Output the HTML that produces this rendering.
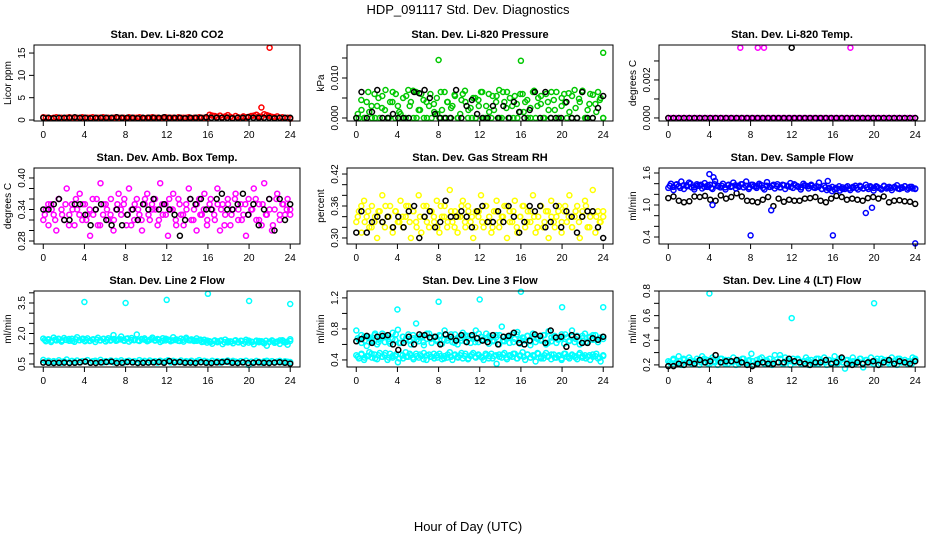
<!DOCTYPE html>
<html><head><meta charset="utf-8">
<style>
html,body{margin:0;padding:0;background:#fff;}
svg{display:block;font-family:"Liberation Sans",Arial,sans-serif;}
</style></head>
<body>
<svg id="chart" width="936" height="540" viewBox="0 0 936 540">
<text x="468" y="14" font-size="13" text-anchor="middle">HDP_091117  Std. Dev. Diagnostics</text>
<text x="468" y="531" font-size="13" text-anchor="middle">Hour of Day (UTC)</text>
<g id="panels"></g>
</svg>
<script>
// ---- data (estimated) ----
const xTicks = [0,4,8,12,16,20,24];

const co2Main = [0.6,0.5,0.5,0.4,0.5,0.6,0.5,0.5,0.4,0.5,0.6,0.5,0.5,0.5,0.4,0.6,0.5,0.5,0.5,0.6,0.4,0.5,0.5,0.6,0.5,0.5,0.4,0.5,0.6,0.5,0.5,0.5,0.4,0.6,0.5,0.5,0.5,0.6,0.5,0.4,0.5,0.5,0.6,0.5,0.5,0.4,0.5,0.6,0.5,0.5,0.5,0.4,0.6,0.5,0.5,0.5,0.6,0.4,0.5,0.5,0.6,0.5,0.5,0.5,1.2,1.0,0.9,0.7,1.0,0.6,0.8,1.1,0.7,0.5,0.9,0.6,0.5,0.8,0.6,0.7,0.9,1.0,1.2,0.8,0.7,1.3,1.1,0.9,0.7,0.6,0.8,0.5,0.6,0.4,0.5,0.3];
const co2Black = [0.5,0.5,0.4,0.5,0.5,0.5,0.6,0.5,0.5,0.4,0.5,0.5,0.5,0.5,0.6,0.5,0.5,0.5,0.4,0.5,0.5,0.5,0.5,0.6,0.5,0.5,0.5,0.4,0.5,0.5,0.5,0.6,0.5,0.5,0.5,0.5,0.4,0.5,0.5,0.6,0.5,0.5,0.5,0.5,0.4,0.5,0.5,0.5];
const co2OutX = [21.2,22.0]; const co2OutY = [2.8,16.2];

const presMain = [0,0,0.002,0,0.004,0.0015,0,0.006,0.003,0,0.0055,0.002,0,0.004,0.0065,0,0.003,0.001,0.005,0,0.007,0.004,0,0.0065,0.002,0.006,0,0.004,0.003,0,0.0015,0.005,0,0.002,0.0065,0.004,0,0.003,0.0055,0,0.001,0.006,0.004,0,0.0025,0.005,0,0.0045,0.0065,0,0.003,0.006,0,0.002,0.0055,0.007,0,0.004,0.0065,0,0.003,0.0055,0,0.0015,0.006,0.004,0,0.0025,0.0065,0,0.005,0.0035,0,0.006,0.002,0,0.0045,0.0065,0,0.003,0.006,0,0.0015,0.0055,0.007,0,0.004,0.0065,0,0.002,0.006,0,0.0035,0.0065,0.005,0];
const presMain2 = [0.001,0.0045,0,0.0065,0.003,0,0.005,0.0025,0.007,0,0.004,0.006,0.0015,0,0.0055,0.003,0.0068,0,0.002,0.0045,0,0.006,0.0035,0.001,0.0065,0,0.004,0.0025,0.0058,0,0.0045,0.0068,0.002,0,0.005,0.003,0.0065,0,0.0015,0.0055,0.004,0,0.0065,0.0025,0.005,0,0.0035,0.006,0.0015,0.0045,0,0.0068,0.003,0.0055,0,0.004,0.0065,0.002,0,0.005,0.0038,0.0062,0,0.0025,0.0048,0.0068,0,0.0035,0.0058,0.0015,0.0045,0];
const presBlack = [0,0.0065,0,0.0015,0.007,0,0,0.001,0,0,0,0.0065,0.0062,0.007,0.005,0.001,0,0,0,0.007,0,0.003,0.0045,0.001,0,0,0.003,0,0.003,0,0.004,0.0015,0,0.002,0.0065,0,0.0065,0,0,0,0.004,0,0,0.0065,0,0,0.0025,0.0055];
const presOutX = [8,16,24]; const presOutY = [0.0145,0.0143,0.0163];

const tempMain = new Array(96).fill(0);
const tempBlack = new Array(48).fill(0);
const tempOutX = [7,8.7,9.3,17.7]; const tempOutY = [0.0037,0.0037,0.0037,0.0037];
const tempBlackOutX = [12]; const tempBlackOutY = [0.0037];

const ambMain = [0.32,0.34,0.31,0.35,0.33,0.30,0.36,0.34,0.32,0.38,0.33,0.35,0.31,0.34,0.37,0.32,0.35,0.33,0.29,0.36,0.34,0.31,0.39,0.33,0.35,0.32,0.36,0.30,0.34,0.37,0.33,0.35,0.31,0.38,0.34,0.32,0.36,0.33,0.30,0.35,0.37,0.32,0.34,0.36,0.31,0.39,0.33,0.35,0.29,0.34,0.37,0.32,0.36,0.33,0.31,0.35,0.38,0.32,0.34,0.30,0.36,0.33,0.37,0.31,0.35,0.34,0.32,0.38,0.30,0.35,0.33,0.36,0.31,0.34,0.37,0.32,0.35,0.33,0.29,0.36,0.34,0.38,0.32,0.35,0.31,0.39,0.33,0.36,0.30,0.34,0.37,0.32,0.35,0.33,0.36,0.34];
const ambMain2 = [0.33,0.35,0.34,0.32,0.36,0.33,0.35,0.31,0.34,0.36,0.33,0.35,0.32,0.34,0.33,0.36,0.31,0.35,0.34,0.33,0.32,0.35,0.34,0.36,0.33,0.31,0.35,0.34,0.32,0.36,0.33,0.35,0.34,0.32,0.35,0.33,0.36,0.34,0.31,0.35,0.33,0.34,0.36,0.32,0.35,0.33,0.34,0.32,0.36,0.33,0.35,0.34,0.31,0.35,0.33,0.36,0.34,0.32,0.35,0.33,0.34,0.36,0.32,0.35,0.33,0.34,0.31,0.36,0.33,0.35,0.34,0.33];
const ambBlack = [0.34,0.34,0.35,0.36,0.32,0.32,0.35,0.35,0.33,0.31,0.34,0.35,0.32,0.31,0.34,0.31,0.33,0.34,0.32,0.35,0.34,0.36,0.34,0.35,0.34,0.33,0.29,0.32,0.36,0.35,0.36,0.34,0.34,0.36,0.37,0.34,0.34,0.35,0.37,0.33,0.35,0.31,0.34,0.36,0.30,0.36,0.32,0.35];

const rhMain = [0.33,0.35,0.31,0.37,0.34,0.32,0.36,0.33,0.30,0.35,0.38,0.32,0.34,0.36,0.31,0.35,0.33,0.37,0.32,0.34,0.36,0.30,0.35,0.33,0.38,0.31,0.34,0.36,0.32,0.35,0.33,0.37,0.31,0.34,0.36,0.32,0.39,0.33,0.35,0.31,0.34,0.37,0.32,0.36,0.33,0.30,0.35,0.34,0.38,0.32,0.36,0.33,0.31,0.35,0.37,0.32,0.34,0.36,0.30,0.35,0.33,0.37,0.31,0.34,0.36,0.32,0.35,0.33,0.38,0.31,0.34,0.36,0.32,0.35,0.30,0.37,0.33,0.34,0.36,0.31,0.35,0.33,0.38,0.32,0.34,0.36,0.30,0.35,0.37,0.32,0.34,0.39,0.31,0.35,0.33,0.34];
const rhMain2 = [0.34,0.36,0.33,0.35,0.32,0.34,0.35,0.33,0.36,0.34,0.32,0.35,0.33,0.34,0.36,0.33,0.35,0.32,0.34,0.36,0.33,0.35,0.34,0.32,0.36,0.34,0.33,0.35,0.32,0.34,0.36,0.33,0.35,0.34,0.32,0.35,0.33,0.36,0.34,0.32,0.35,0.33,0.34,0.36,0.33,0.35,0.32,0.34,0.36,0.33,0.35,0.34,0.32,0.36,0.33,0.35,0.34,0.32,0.35,0.33,0.36,0.34,0.32,0.35,0.33,0.34,0.36,0.32,0.35,0.34,0.33,0.35];
const rhBlack = [0.31,0.35,0.31,0.33,0.34,0.33,0.34,0.32,0.34,0.32,0.35,0.36,0.30,0.34,0.35,0.32,0.33,0.37,0.34,0.34,0.35,0.34,0.32,0.35,0.36,0.33,0.33,0.35,0.33,0.36,0.34,0.31,0.33,0.36,0.35,0.36,0.32,0.33,0.36,0.32,0.35,0.34,0.31,0.34,0.35,0.35,0.32,0.30];

const sampMain = [1.32,1.40,1.28,1.38,1.35,1.44,1.30,1.37,1.42,1.33,1.29,1.39,1.36,1.31,1.41,1.34,1.38,1.30,1.45,1.36,1.33,1.40,1.29,1.37,1.34,1.42,1.31,1.36,1.39,1.33,1.44,1.30,1.38,1.35,1.32,1.40,1.37,1.29,1.43,1.34,1.36,1.31,1.39,1.33,1.38,1.30,1.35,1.41,1.32,1.37,1.34,1.29,1.40,1.36,1.31,1.38,1.33,1.35,1.42,1.30,1.36,1.28,1.32,1.26,1.29,1.31,1.27,1.33,1.30,1.35,1.28,1.32,1.36,1.29,1.34,1.31,1.38,1.30,1.33,1.27,1.35,1.32,1.29,1.36,1.31,1.34,1.28,1.33,1.37,1.30,1.32,1.35,1.29,1.34,1.31,1.30];
const sampMain2 = [1.36,1.34,1.39,1.32,1.37,1.35,1.40,1.33,1.36,1.38,1.34,1.37,1.32,1.39,1.35,1.36,1.33,1.38,1.35,1.37,1.34,1.39,1.36,1.33,1.38,1.35,1.37,1.32,1.36,1.34,1.38,1.35,1.33,1.37,1.36,1.34,1.39,1.35,1.33,1.37,1.35,1.36,1.32,1.34,1.30,1.33,1.31,1.34,1.32,1.35,1.30,1.33,1.31,1.34,1.32,1.36,1.31,1.33,1.35,1.32,1.34,1.31,1.35,1.33,1.32,1.34,1.31,1.33,1.35,1.32,1.34,1.31];
const sampBlack = [1.13,1.16,1.08,1.05,1.07,1.16,1.15,1.17,1.10,1.08,1.18,1.12,1.15,1.22,1.16,1.08,1.07,1.05,1.10,1.15,0.98,1.12,1.06,1.10,1.08,1.08,1.12,1.13,1.15,1.08,1.05,1.12,1.17,1.15,1.10,1.12,1.10,1.08,1.13,1.15,1.12,1.16,1.05,1.08,1.09,1.07,1.06,1.02];
const sampOutX = [4,4.3,8,10,16,19.2,19.8,24,4.4,15.5]; const sampOutY = [1.58,1.0,0.43,0.9,0.43,0.85,0.95,0.28,1.52,1.45];

const l2Upper = [1.75,1.62,1.70,1.58,1.80,1.66,1.72,1.60,1.78,1.68,1.64,1.74,1.59,1.82,1.67,1.71,1.62,1.76,1.65,1.70,1.58,1.79,1.66,1.73,1.61,1.77,1.68,1.92,1.64,1.72,1.85,1.66,1.74,1.60,1.78,1.67,1.95,1.63,1.71,1.76,1.62,1.69,1.80,1.65,1.73,1.58,1.77,1.66,1.70,1.62,1.82,1.68,1.64,1.75,1.60,1.79,1.67,1.71,1.63,1.76,1.66,1.58,1.69,1.55,1.62,1.50,1.66,1.57,1.63,1.48,1.70,1.56,1.61,1.52,1.67,1.58,1.64,1.50,1.69,1.55,1.60,1.47,1.65,1.57,1.62,1.52,1.40,1.58,1.66,1.54,1.60,1.49,1.67,1.56,1.45,1.72];
const l2Upper2 = [1.68,1.72,1.65,1.70,1.74,1.66,1.69,1.73,1.64,1.71,1.67,1.75,1.68,1.63,1.72,1.70,1.66,1.74,1.69,1.65,1.73,1.67,1.71,1.64,1.76,1.68,1.70,1.66,1.73,1.69,1.65,1.72,1.67,1.70,1.64,1.74,1.68,1.66,1.71,1.63,1.69,1.72,1.66,1.68,1.64,1.70,1.60,1.65,1.58,1.63,1.61,1.66,1.57,1.62,1.60,1.64,1.56,1.63,1.59,1.65,1.58,1.61,1.63,1.57,1.64,1.60,1.62,1.58,1.66,1.61,1.59,1.63];
const l2Lower = [0.70,0.62,0.66,0.58,0.64,0.60,0.68,0.57,0.63,0.72,0.59,0.65,0.61,0.67,0.58,0.64,0.62,0.69,0.57,0.63,0.66,0.60,0.70,0.58,0.64,0.61,0.67,0.59,0.65,0.62,0.68,0.57,0.63,0.66,0.60,0.64,0.58,0.69,0.62,0.65,0.59,0.67,0.61,0.64,0.57,0.66,0.60,0.63,0.68,0.58,0.65,0.62,0.60,0.67,0.59,0.64,0.61,0.66,0.58,0.63,0.69,0.60,0.65,0.62,0.58,0.66,0.60,0.64,0.57,0.63,0.61,0.67,0.59,0.65,0.62,0.58,0.64,0.60,0.66,0.45,0.62,0.59,0.65,0.61,0.57,0.63,0.66,0.60,0.64,0.58,0.62,0.65,0.59,0.63,0.61,0.60];
const l2Black = [0.57,0.56,0.55,0.56,0.57,0.55,0.56,0.58,0.62,0.56,0.55,0.58,0.60,0.62,0.55,0.56,0.60,0.58,0.55,0.56,0.57,0.58,0.60,0.56,0.64,0.58,0.60,0.56,0.57,0.55,0.59,0.56,0.55,0.58,0.59,0.62,0.56,0.55,0.58,0.55,0.56,0.58,0.56,0.55,0.57,0.59,0.56,0.52];
const l2OutX = [4,8,12,16,20,24]; const l2OutY = [3.55,3.5,3.65,3.95,3.6,3.45];

const l3Upper = [0.78,0.66,0.62,0.70,0.58,0.68,0.64,0.72,0.60,0.67,0.74,0.63,0.69,0.61,0.75,0.66,0.79,0.62,0.70,0.65,0.73,0.60,0.68,0.87,0.64,0.71,0.59,0.67,0.74,0.62,0.69,0.66,0.72,0.61,0.78,0.65,0.70,0.63,0.73,0.60,0.68,0.75,0.64,0.71,0.62,0.67,0.78,0.63,0.70,0.66,0.74,0.61,0.69,0.65,0.72,0.60,0.83,0.64,0.70,0.62,0.73,0.67,0.76,0.61,0.69,0.65,0.71,0.59,0.74,0.63,0.68,0.66,0.72,0.60,0.77,0.64,0.70,0.62,0.67,0.73,0.61,0.69,0.65,0.78,0.63,0.71,0.60,0.68,0.74,0.62,0.70,0.66,0.72,0.63,0.69,0.67];
const l3Upper2 = [0.68,0.72,0.65,0.70,0.66,0.74,0.63,0.69,0.71,0.64,0.67,0.73,0.62,0.70,0.68,0.65,0.72,0.66,0.69,0.63,0.74,0.67,0.70,0.64,0.71,0.66,0.68,0.73,0.62,0.69,0.65,0.72,0.67,0.70,0.63,0.74,0.66,0.68,0.71,0.64,0.69,0.72,0.65,0.67,0.70,0.63,0.73,0.66,0.68,0.71,0.64,0.70,0.67,0.65,0.72,0.62,0.69,0.71,0.66,0.68,0.73,0.64,0.70,0.67,0.65,0.71,0.63,0.69,0.72,0.66,0.68,0.70];
const l3Lower = [0.46,0.42,0.48,0.40,0.45,0.50,0.43,0.47,0.41,0.49,0.44,0.46,0.40,0.48,0.43,0.45,0.37,0.47,0.42,0.50,0.44,0.46,0.41,0.48,0.43,0.45,0.49,0.40,0.47,0.44,0.42,0.46,0.48,0.41,0.45,0.43,0.50,0.40,0.47,0.44,0.46,0.42,0.48,0.41,0.45,0.49,0.43,0.47,0.44,0.40,0.46,0.42,0.48,0.45,0.35,0.47,0.43,0.49,0.41,0.46,0.44,0.48,0.42,0.45,0.50,0.40,0.47,0.43,0.46,0.38,0.48,0.44,0.42,0.49,0.45,0.41,0.47,0.43,0.46,0.40,0.48,0.44,0.42,0.47,0.45,0.41,0.49,0.43,0.46,0.44,0.40,0.47,0.45,0.42,0.38,0.46];
const l3Lower2 = [0.44,0.47,0.43,0.45,0.48,0.42,0.46,0.44,0.49,0.43,0.45,0.47,0.42,0.46,0.44,0.48,0.43,0.45,0.47,0.41,0.46,0.44,0.48,0.43,0.45,0.42,0.47,0.44,0.46,0.43,0.49,0.45,0.42,0.47,0.44,0.46,0.43,0.48,0.45,0.42,0.46,0.44,0.47,0.43,0.45,0.48,0.42,0.46,0.44,0.47,0.43,0.45,0.49,0.42,0.46,0.44,0.47,0.43,0.45,0.42,0.48,0.44,0.46,0.43,0.47,0.45,0.42,0.46,0.44,0.48,0.43,0.45];
const l3Black = [0.64,0.67,0.71,0.62,0.70,0.71,0.72,0.60,0.53,0.62,0.70,0.60,0.73,0.72,0.69,0.70,0.60,0.73,0.70,0.65,0.72,0.63,0.72,0.68,0.65,0.63,0.72,0.60,0.70,0.71,0.75,0.62,0.60,0.65,0.73,0.71,0.62,0.78,0.69,0.70,0.57,0.72,0.70,0.62,0.62,0.68,0.66,0.70];
const l3OutX = [4,8,12,16,20,24]; const l3OutY = [1.05,1.15,1.18,1.28,1.08,1.08];

const l4Main = [0.23,0.21,0.25,0.22,0.27,0.20,0.24,0.22,0.26,0.21,0.23,0.25,0.20,0.27,0.22,0.24,0.21,0.26,0.23,0.20,0.25,0.22,0.24,0.21,0.23,0.26,0.20,0.24,0.22,0.25,0.21,0.23,0.29,0.20,0.24,0.22,0.26,0.21,0.23,0.25,0.20,0.28,0.22,0.28,0.21,0.26,0.23,0.20,0.25,0.22,0.24,0.21,0.23,0.26,0.20,0.24,0.22,0.25,0.21,0.23,0.26,0.20,0.24,0.22,0.27,0.21,0.23,0.25,0.17,0.24,0.22,0.26,0.21,0.23,0.25,0.18,0.24,0.22,0.26,0.21,0.23,0.20,0.25,0.22,0.24,0.21,0.26,0.23,0.20,0.25,0.22,0.24,0.21,0.23,0.26,0.25];
const l4Main2 = [0.22,0.24,0.21,0.23,0.25,0.22,0.24,0.21,0.23,0.22,0.25,0.21,0.24,0.22,0.23,0.25,0.21,0.24,0.22,0.23,0.21,0.25,0.22,0.24,0.23,0.21,0.25,0.22,0.24,0.21,0.23,0.22,0.25,0.21,0.24,0.23,0.22,0.25,0.21,0.23,0.24,0.22,0.21,0.25,0.23,0.22,0.24,0.21,0.23,0.25,0.22,0.24,0.21,0.23,0.22,0.25,0.21,0.24,0.22,0.23,0.25,0.21,0.24,0.22,0.23,0.21,0.25,0.22,0.24,0.23,0.21,0.24];
const l4Black = [0.19,0.19,0.21,0.20,0.22,0.21,0.24,0.22,0.23,0.28,0.22,0.23,0.23,0.24,0.22,0.20,0.19,0.21,0.22,0.21,0.21,0.22,0.22,0.25,0.23,0.22,0.21,0.20,0.22,0.22,0.24,0.21,0.22,0.26,0.21,0.20,0.22,0.21,0.22,0.23,0.20,0.22,0.24,0.21,0.23,0.22,0.21,0.23];
const l4OutX = [4,12,20]; const l4OutY = [0.78,0.58,0.70];

// y axis configs
const yTicksCo2 = [0,5,10,15], yLabCo2 = ["0","5","10","15"];
const yTicksPres = [0,0.005,0.010,0.015], yLabPres = ["0.000","","0.010",""];
const yTicksTemp = [0,0.001,0.002,0.003], yLabTemp = ["0.000","","0.002",""];
const yTicksAmb = [0.28,0.30,0.32,0.34,0.36,0.38,0.40], yLabAmb = ["0.28","","","0.34","","","0.40"];
const yTicksRh = [0.30,0.32,0.34,0.36,0.38,0.40,0.42], yLabRh = ["0.30","","","0.36","","","0.42"];
const yTicksSamp = [0.4,0.6,0.8,1.0,1.2,1.4,1.6], yLabSamp = ["0.4","","","1.0","","","1.6"];
const yTicksL2 = [0.5,1.0,1.5,2.0,2.5,3.0,3.5,4.0], yLabL2 = ["0.5","","","2.0","","","3.5",""];
const yTicksL3 = [0.4,0.6,0.8,1.0,1.2], yLabL3 = ["0.4","","0.8","","1.2"];
const yTicksL4 = [0.2,0.3,0.4,0.5,0.6,0.7,0.8], yLabL4 = ["0.2","","0.4","","0.6","","0.8"];

const NS = "http://www.w3.org/2000/svg";
const root = document.getElementById("panels");
function mk(tag, attrs, parent){ const e=document.createElementNS(NS,tag); for(const k in attrs) e.setAttribute(k,attrs[k]); parent.appendChild(e); return e; }

const colLeft = [34,347,659], rowTop = [45,168,291], W = 266, H = 76;
const XLO = -0.9, XHI = 24.95;

function panel(name, col, row, title, ylab, ylo, yhi, yt, yl, layers){
  const g = mk("g",{},root);
  
  
  const L = colLeft[col], T = rowTop[row];
  const sx = v => L + (v - XLO) / (XHI - XLO) * W;
  const sy = v => T + H - (v - ylo) / (yhi - ylo) * H;
  const t = mk("text",{x:L+W/2,y:T-7,"font-size":11,"font-weight":"bold","text-anchor":"middle"},g);
  
  
  t.textContent = title;
  layers.forEach(ly => {
    const pg = mk("g",{fill:"none",stroke:ly.color,"stroke-width":1.5},g);
    
    
    const n = ly.y.length;
    const off = ly.off || 0;
    for (let i=0;i<n;i++){
      const xv = ly.x ? ly.x[i] : off + i*(24-off)/(n-1);
      const c = mk("circle",{cx:sx(xv).toFixed(1),cy:sy(ly.y[i]).toFixed(1),r:2.5},pg);
      
      
    }
  });
  const box = mk("rect",{x:L,y:T,width:W,height:H,fill:"none",stroke:"#000","stroke-width":1},g);
  
  
  const xa = mk("g",{},g);
  
  
  xTicks.forEach(v => {
    mk("line",{x1:sx(v),x2:sx(v),y1:T+H,y2:T+H+5,stroke:"#000"},xa);
    const lb = mk("text",{x:sx(v),y:T+H+17,"font-size":10,"text-anchor":"middle"},xa);
    lb.textContent = v;
  });
  const ya = mk("g",{},g);
  
  
  yt.forEach((v,i) => {
    mk("line",{x1:L-5,x2:L,y1:sy(v),y2:sy(v),stroke:"#000"},ya);
    if (yl[i]) {
      const lb = mk("text",{x:L-9,y:sy(v),"font-size":10,"text-anchor":"middle",transform:`rotate(-90 ${L-9} ${sy(v)})`},ya);
      lb.textContent = yl[i];
    }
  });
  const yt2 = mk("text",{x:L-23,y:T+H/2,"font-size":10,"text-anchor":"middle",transform:`rotate(-90 ${L-23} ${T+H/2})`},g);
  
  
  yt2.textContent = ylab;
}

const RED="#ff0000", GRN="#00c800", MAG="#ff00ff", YEL="#ffff00", BLU="#0000ff", CYN="#00ffff", BLK="#000000";

panel("co2-panel",0,0,"Stan. Dev. Li-820 CO2","Licor ppm",-0.22,16.8,yTicksCo2,yLabCo2,
  [{id:"main",color:RED,y:co2Main},{id:"outliers",color:RED,x:co2OutX,y:co2OutY},{id:"black",color:BLK,y:co2Black}]);
panel("pressure-panel",1,0,"Stan. Dev. Li-820 Pressure","kPa",-0.00075,0.01825,yTicksPres,yLabPres,
  [{id:"main",color:GRN,y:presMain},{id:"main2",color:GRN,y:presMain2,off:0.15},{id:"outliers",color:GRN,x:presOutX,y:presOutY},{id:"black",color:BLK,y:presBlack}]);
panel("temp-panel",2,0,"Stan. Dev. Li-820 Temp.","degrees C",-0.00016,0.00384,yTicksTemp,yLabTemp,
  [{id:"main",color:MAG,y:tempMain},{id:"outliers",color:MAG,x:tempOutX,y:tempOutY},{id:"black",color:BLK,y:tempBlack},{id:"black-outliers",color:BLK,x:tempBlackOutX,y:tempBlackOutY}]);
panel("amb-box-panel",0,1,"Stan. Dev. Amb. Box Temp.","degrees C",0.2743,0.419,yTicksAmb,yLabAmb,
  [{id:"main",color:MAG,y:ambMain},{id:"main2",color:MAG,y:ambMain2,off:0.15},{id:"black",color:BLK,y:ambBlack}]);
panel("rh-panel",1,1,"Stan. Dev. Gas Stream RH","percent",0.2887,0.4313,yTicksRh,yLabRh,
  [{id:"main",color:YEL,y:rhMain},{id:"main2",color:YEL,y:rhMain2,off:0.15},{id:"black",color:BLK,y:rhBlack}]);
panel("sample-flow-panel",2,1,"Stan. Dev. Sample Flow","ml/min",0.269,1.694,yTicksSamp,yLabSamp,
  [{id:"black",color:BLK,y:sampBlack},{id:"main",color:BLU,y:sampMain},{id:"main2",color:BLU,y:sampMain2,off:0.15},{id:"outliers",color:BLU,x:sampOutX,y:sampOutY}]);
panel("line2-panel",0,2,"Stan. Dev. Line 2 Flow","ml/min",0.352,4.09,yTicksL2,yLabL2,
  [{id:"upper",color:CYN,y:l2Upper},{id:"upper2",color:CYN,y:l2Upper2,off:0.15},{id:"lower",color:CYN,y:l2Lower},{id:"outliers",color:CYN,x:l2OutX,y:l2OutY},{id:"black",color:BLK,y:l2Black}]);
panel("line3-panel",1,2,"Stan. Dev. Line 3 Flow","ml/min",0.309,1.289,yTicksL3,yLabL3,
  [{id:"upper",color:CYN,y:l3Upper},{id:"upper2",color:CYN,y:l3Upper2,off:0.15},{id:"lower",color:CYN,y:l3Lower},{id:"lower2",color:CYN,y:l3Lower2,off:0.15},{id:"outliers",color:CYN,x:l3OutX,y:l3OutY},{id:"black",color:BLK,y:l3Black}]);
panel("line4-panel",2,2,"Stan. Dev. Line 4 (LT) Flow","ml/min",0.183,0.80,yTicksL4,yLabL4,
  [{id:"main",color:CYN,y:l4Main},{id:"main2",color:CYN,y:l4Main2,off:0.15},{id:"outliers",color:CYN,x:l4OutX,y:l4OutY},{id:"black",color:BLK,y:l4Black}]);
</script>
</body></html>
